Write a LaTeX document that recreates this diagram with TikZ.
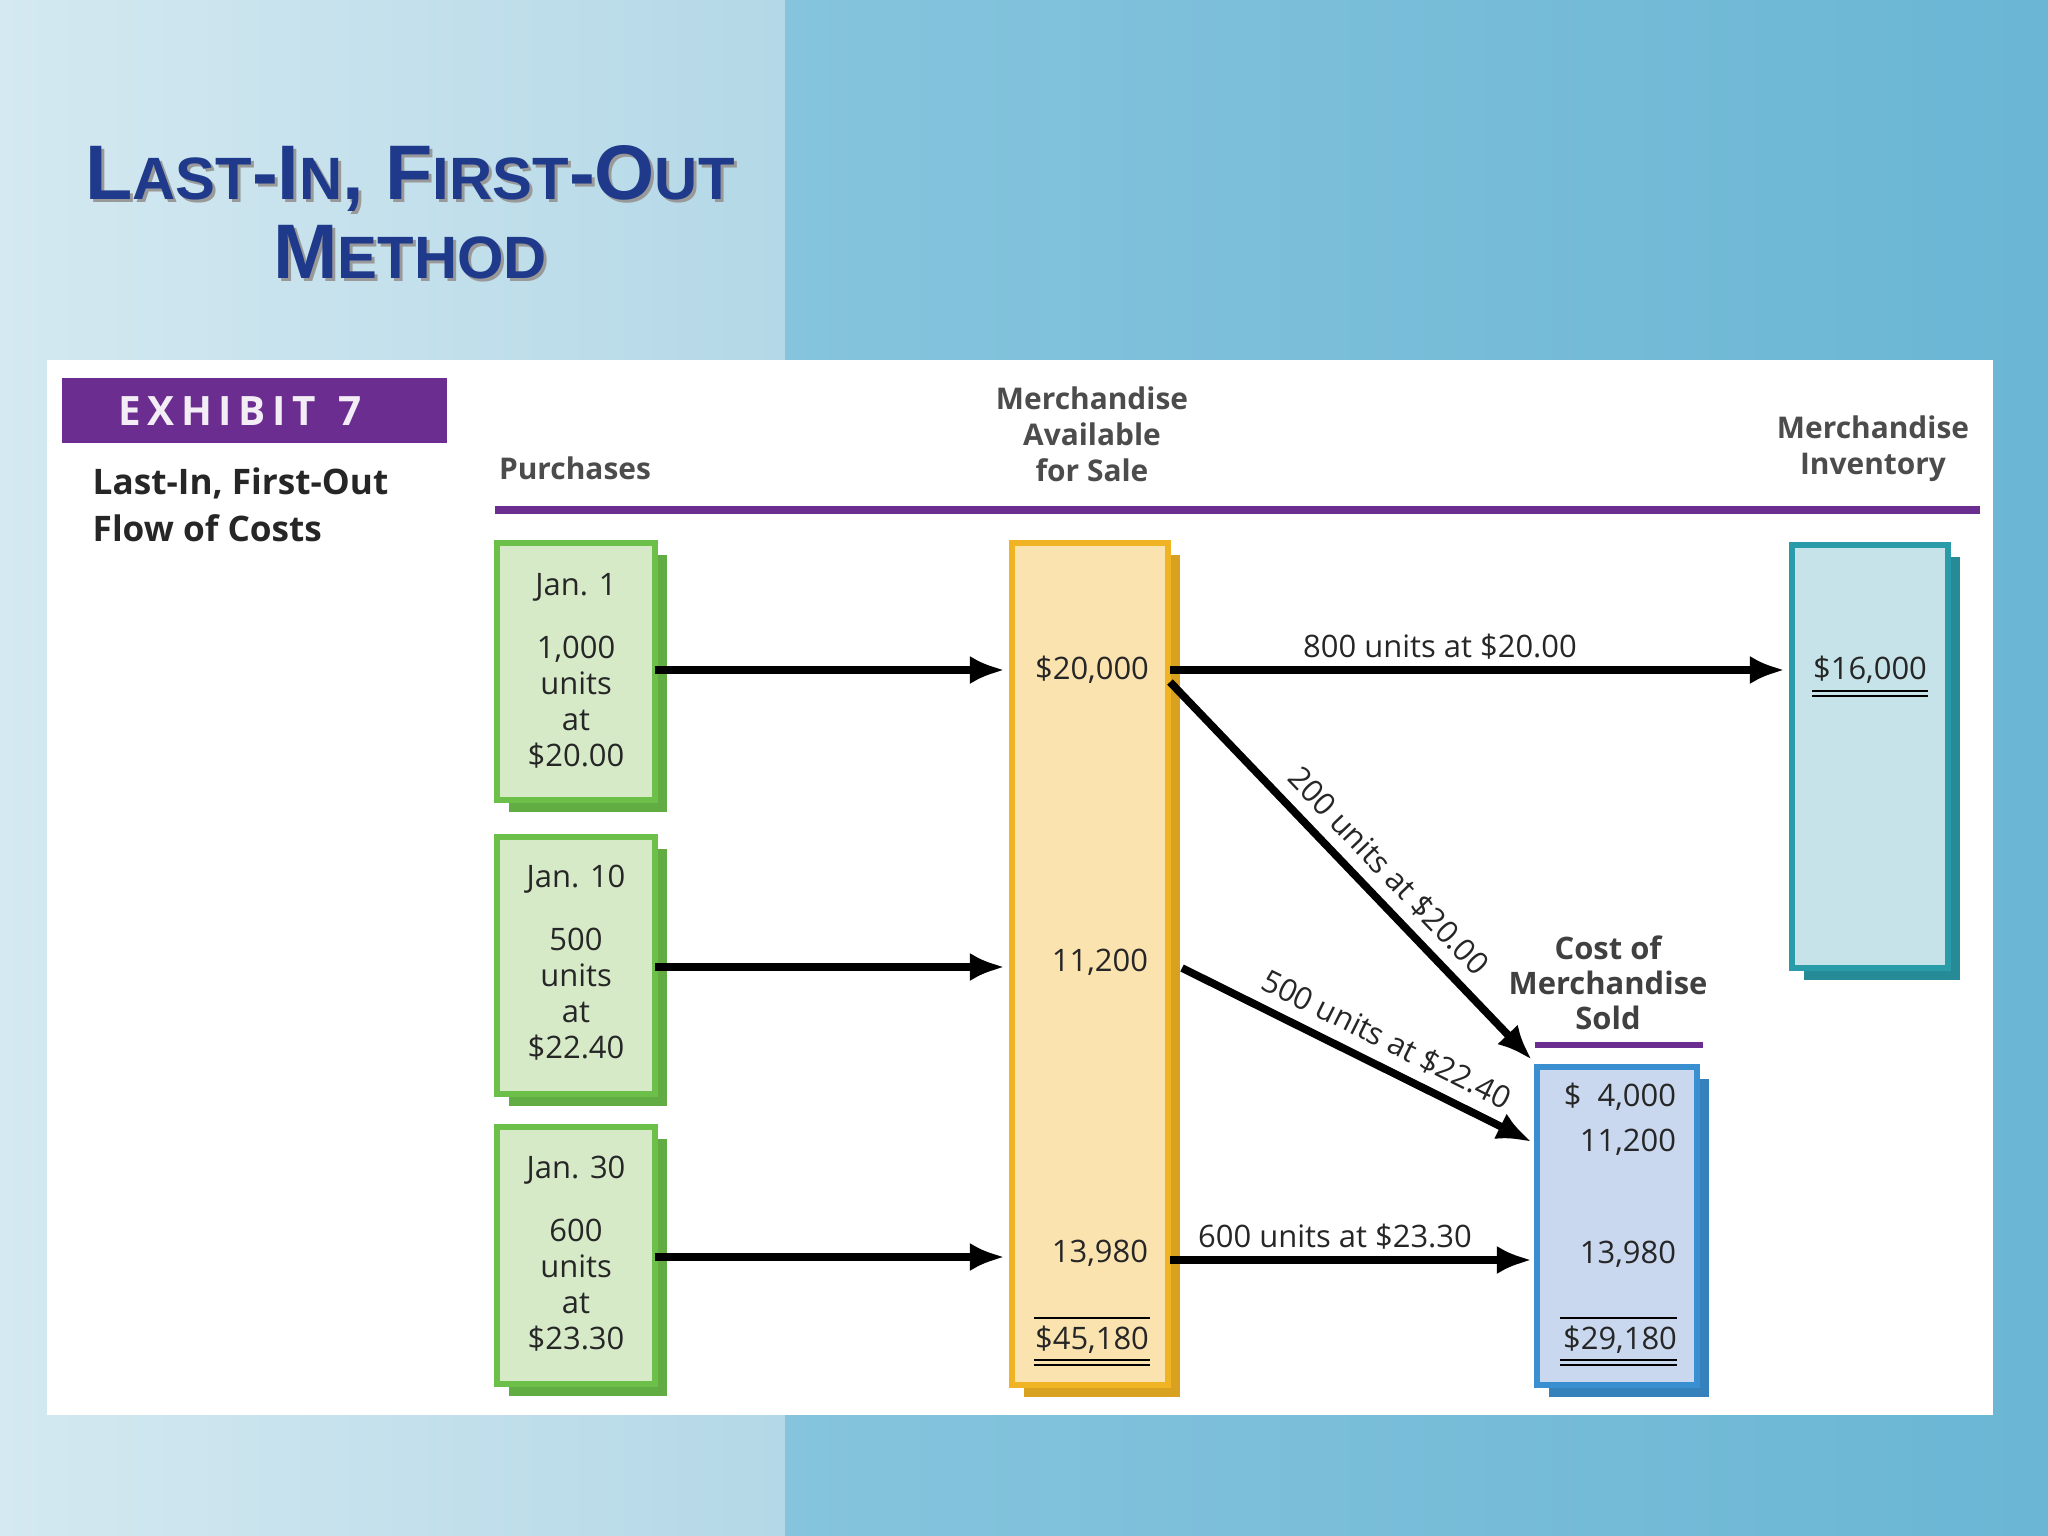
\documentclass[tikz,border=0pt]{standalone}
\usepackage{fontspec}
\setmainfont{Open Sans}
\newfontfamily\titlefont{Liberation Sans}
\usetikzlibrary{arrows.meta}
\definecolor{tblue}{HTML}{1F3A8A}
\definecolor{purp}{HTML}{6B2D8F}
\definecolor{gfill}{HTML}{D6EAC8}\definecolor{gline}{HTML}{6CC04A}
\definecolor{yfill}{HTML}{FBE3B0}\definecolor{yline}{HTML}{F0B323}
\definecolor{tfill}{HTML}{C5E3E8}\definecolor{tline}{HTML}{2A9BA8}
\definecolor{bfill}{HTML}{C9D8EE}\definecolor{bline}{HTML}{3A8FD0}
\definecolor{bgl1}{HTML}{D4E9F1}\definecolor{bgl2}{HTML}{B4D8E7}
\definecolor{bgr1}{HTML}{86C4DD}\definecolor{bgr2}{HTML}{6AB6D4}
\tikzset{
 txt/.style={font=\fontsize{8.8}{11}\selectfont, text=black!85, align=center, inner sep=0},
 arr/.style={line width=2.2pt, -{Latex[length=10pt,width=8pt]}},
 bx/.style n args={2}{fill=#1, draw=#2, line width=1.6pt},
}
\begin{document}
\begin{tikzpicture}[x=0.01cm,y=-0.01cm]
\useasboundingbox (0,0) rectangle (2048,1536);
\shade[left color=bgl1, right color=bgl2] (0,0) rectangle (785,1536);
\shade[left color=bgr1, right color=bgr2] (785,0) rectangle (2048,1536);
\fill[white] (47,360) rectangle (1993,1415);
% title
\foreach \dx/\c in {3/black!40,0/tblue}{
\node[text=\c, font=\titlefont\bfseries, align=center] at (410+\dx,212+\dx)
 {{\fontsize{22}{26}\selectfont L}{\fontsize{17}{26}\selectfont AST}{\fontsize{22}{26}\selectfont -I}{\fontsize{17}{26}\selectfont N}{\fontsize{22}{26}\selectfont , F}{\fontsize{17}{26}\selectfont IRST}{\fontsize{22}{26}\selectfont -O}{\fontsize{17}{26}\selectfont UT}\\[3pt]{\fontsize{22}{26}\selectfont M}{\fontsize{17}{26}\selectfont ETHOD}};}
% exhibit
\fill[purp] (62,378) rectangle (447,443);
\node[text=white!92!purp, font=\fontsize{11.5}{14}\selectfont\bfseries] (ex) at (240,411) {E\,X\,H\,I\,B\,I\,T\;\;7};
\node[txt, font=\fontsize{10}{13.5}\selectfont\bfseries, align=left, anchor=west] (sub) at (92,505) {Last-In, First-Out\\Flow of Costs};
% headers
\node[txt, font=\fontsize{8.5}{10}\selectfont\bfseries, text=black!70] (h1) at (575,468) {Purchases};
\node[txt, font=\fontsize{8.5}{10.2}\selectfont\bfseries, text=black!70, anchor=south] (h2) at (1092,482) {Merchandise\\Available\\for Sale};
\node[txt, font=\fontsize{8.5}{10.2}\selectfont\bfseries, text=black!70, anchor=south] (h3) at (1873,482) {Merchandise\\Inventory};
\draw[purp, line width=2.4pt] (495,510) -- (1980,510);
% green boxes
\foreach \n/\y in {g1/543, g2/837, g3/1127}{
 \fill[gline!90!black] (509,\y+12) rectangle (667,\y+269);
 \draw[bx={gfill}{gline}] (497,\y) rectangle (655,\y+257);
}
\coordinate (g1) at (655,670); \coordinate (g2) at (655,967); \coordinate (g3) at (655,1257);
\node[txt] (d1) at (576,587) {Jan. 1};
\node[txt, font=\fontsize{8.8}{10.2}\selectfont] (t1) at (576,702) {1,000\\units\\at\\\$20.00};
\node[txt] (d2) at (576,879) {Jan. 10};
\node[txt, font=\fontsize{8.8}{10.2}\selectfont] (t2) at (576,994) {500\\units\\at\\\$22.40};
\node[txt] (d3) at (576,1170) {Jan. 30};
\node[txt, font=\fontsize{8.8}{10.2}\selectfont] (t3) at (576,1285) {600\\units\\at\\\$23.30};
% yellow
\fill[yline!90!black] (1024,555) rectangle (1180,1397);
\draw[bx={yfill}{yline}] (1012,543) rectangle (1168,1385);
\node[txt] (y1) at (1092,670) {\$20,000};
\node[txt] (y2) at (1100,962) {11,200};
\node[txt] (y3) at (1100,1253) {13,980};
\node[txt] (y4) at (1092,1340) {\$45,180};
\draw[line width=0.8pt] (1034,1318)--(1150,1318);
\draw[line width=0.8pt] (1034,1360)--(1150,1360) (1034,1365)--(1150,1365);
% teal
\fill[tline!90!black] (1804,557) rectangle (1960,980);
\draw[bx={tfill}{tline}] (1792,545) rectangle (1948,968);
\node[txt] (inv) at (1870,670) {\$16,000};
\draw[line width=0.8pt] (1812,691)--(1928,691) (1812,696)--(1928,696);
% blue
\node[txt, font=\fontsize{8.8}{10}\selectfont\bfseries, text=black!75] (h4) at (1608,983) {Cost of\\Merchandise\\Sold};
\draw[purp, line width=1.6pt] (1535,1045) -- (1703,1045);
\fill[bline!90!black] (1549,1079) rectangle (1709,1397);
\draw[bx={bfill}{bline}] (1537,1067) rectangle (1697,1385);
\node[txt] (c1) at (1620,1097) {\$\ \ 4,000};
\node[txt] (c2) at (1628,1142) {11,200};
\node[txt] (c3) at (1628,1254) {13,980};
\node[txt] (c4) at (1620,1340) {\$29,180};
\draw[line width=0.8pt] (1560,1318)--(1677,1318);
\draw[line width=0.8pt] (1560,1360)--(1677,1360) (1560,1365)--(1677,1365);
% arrows
\coordinate (m1) at (1005,670); \coordinate (m2) at (1005,967); \coordinate (m3) at (1005,1257);
\draw[arr] (g1) -- (m1);
\draw[arr] (g2) -- (m2);
\draw[arr] (g3) -- (m3);
\coordinate (s1) at (1170,670); \coordinate (e1) at (1785,670);
\draw[arr] (s1) -- (e1);
\node[txt] (l1) at (1440,647) {800 units at \$20.00};
\coordinate (s2) at (1170,682); \coordinate (e2) at (1532,1060);
\draw[arr] (s2) -- node[txt, sloped, above=3pt, pos=0.55] (l2) {200 units at \$20.00} (e2);
\coordinate (s3) at (1182,968); \coordinate (e3) at (1532,1142);
\draw[arr] (s3) -- node[txt, sloped, above=3pt, pos=0.55] (l3) {500 units at \$22.40} (e3);
\coordinate (s4) at (1170,1260); \coordinate (e4) at (1532,1260);
\draw[arr] (s4) -- (e4);
\node[txt] (l4) at (1335,1237) {600 units at \$23.30};
\end{tikzpicture}
\end{document}
